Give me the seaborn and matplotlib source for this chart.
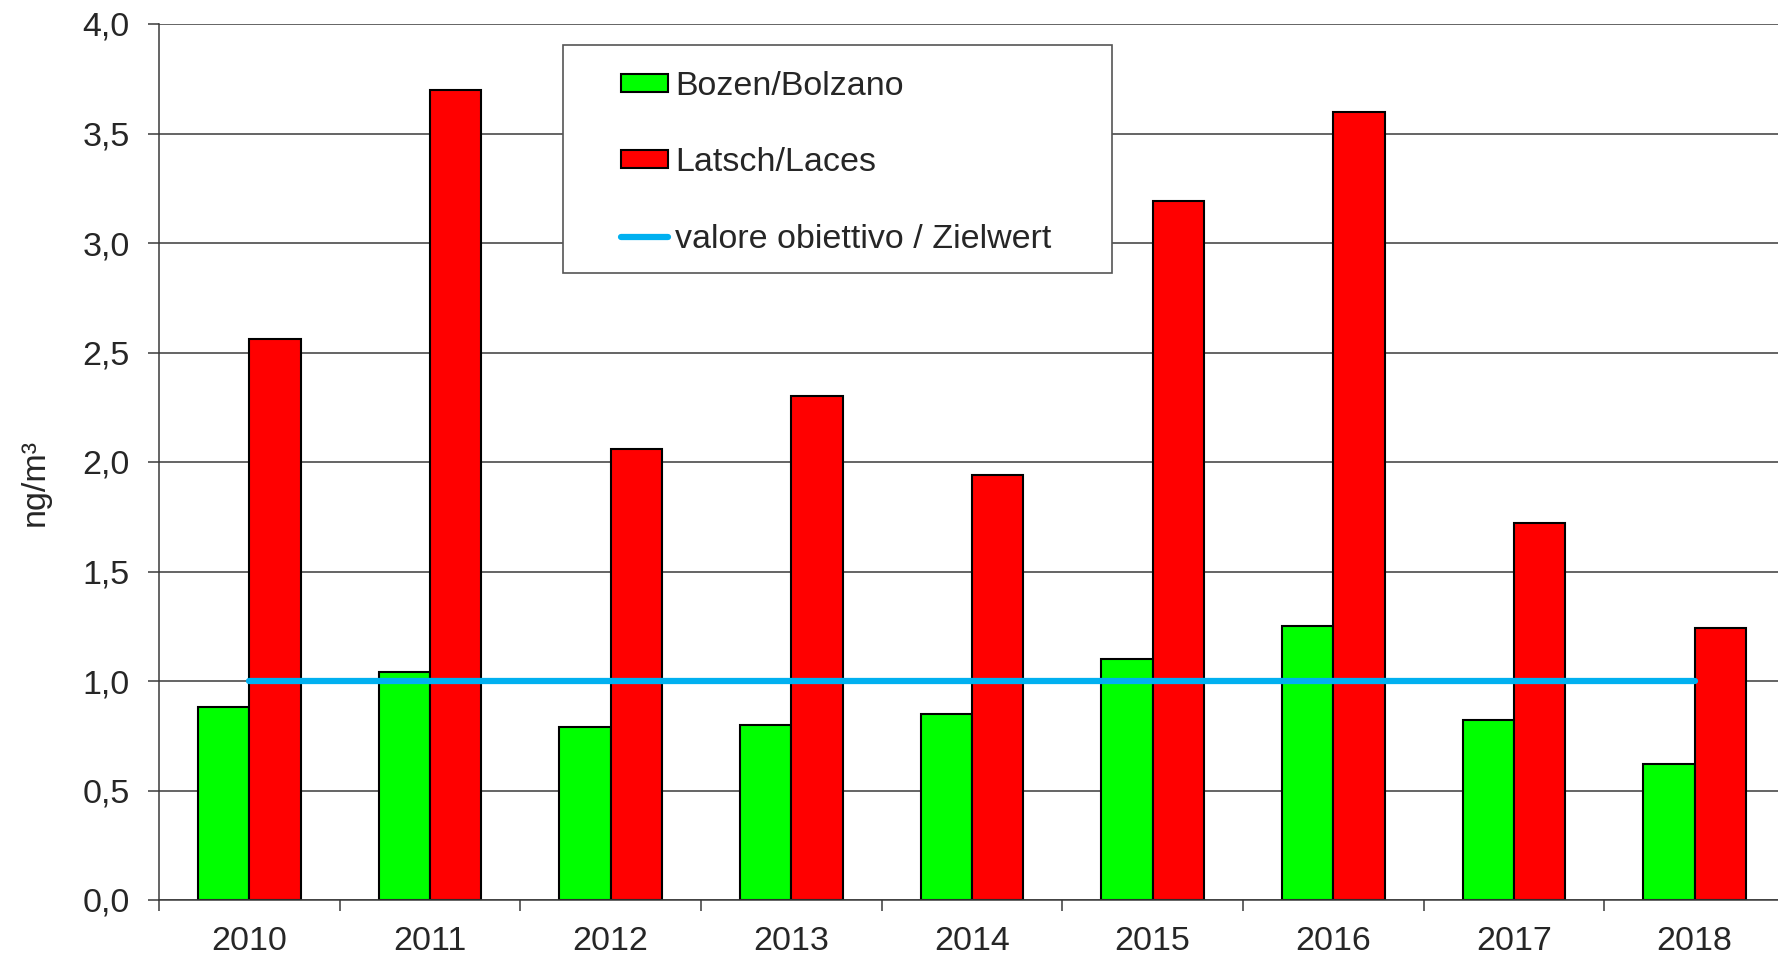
import numpy as np
import pandas as pd
import seaborn as sns
import matplotlib.pyplot as plt
from matplotlib.patches import Rectangle

# values (ng/m3)
years = ['2010', '2011', '2012', '2013', '2014', '2015', '2016', '2017', '2018']
bozen = [0.88, 1.04, 0.79, 0.80, 0.85, 1.10, 1.25, 0.82, 0.62]
latsch = [2.56, 3.70, 2.06, 2.30, 1.94, 3.19, 3.60, 1.72, 1.24]
target = [1.0, 1.0, 1.0, 1.0, 1.0, 1.0, 1.0, 1.0, 1.0]
stations = ['Bozen/Bolzano', 'Latsch/Laces']
target_label = 'valore obiettivo / Zielwert'

df = pd.DataFrame({
    'year': years * 2,
    'value': bozen + latsch,
    'station': [stations[0]] * len(years) + [stations[1]] * len(years),
})

sns.set_style('white')
plt.rcParams['font.family'] = ['Liberation Sans', 'DejaVu Sans']
fs = 24.5

fig = plt.figure(figsize=(17.78, 9.57), dpi=100)
ax = fig.add_axes([159 / 1778, 1 - 900 / 957, 1626 / 1778, 876 / 957])

sns.barplot(data=df, x='year', y='value', hue='station', order=years,
            palette=['#00FF00', '#FF0000'], saturation=1, width=0.57,
            edgecolor='black', linewidth=1.5, errorbar=None, ax=ax, zorder=2)
sns.lineplot(x=np.arange(len(years)), y=target, color='#00B0F0', linewidth=4.5,
             solid_capstyle='round', label=target_label, ax=ax, zorder=3)

ax.set_xlim(-0.5, len(years) - 0.5)
ax.set_ylim(0, 4.0)
ax.set_yticks(np.arange(0, 4.01, 0.5))
ax.set_yticklabels([f'{v:.1f}'.replace('.', ',') for v in np.arange(0, 4.01, 0.5)])
ax.yaxis.grid(True, color='#3a3a3a', linewidth=1.1)
ax.set_axisbelow(True)

ax.set_xticks(np.arange(len(years)))
ax.set_xticklabels(years)
ax.set_xticks(np.arange(len(years)) - 0.5, minor=True)
ax.tick_params(axis='x', which='major', length=0, pad=19, labelsize=fs)
ax.tick_params(axis='x', which='minor', length=8, width=1.1, color='#3a3a3a', direction='out', bottom=True)
ax.tick_params(axis='y', length=8, width=1.1, color='#3a3a3a', direction='out', left=True, pad=13, labelsize=fs)

for s in ['top', 'right']:
    ax.spines[s].set_visible(False)
for s in ['left', 'bottom']:
    ax.spines[s].set_color('#3a3a3a')
    ax.spines[s].set_linewidth(1.1)

ax.set_xlabel('')
ax.set_ylabel('ng/m³', fontsize=fs)
ax.yaxis.set_label_coords(-0.0664, 0.477)

# legend box drawn separately so the entries can sit centred in it
ax.add_patch(Rectangle((563 / 1778, 1 - 273 / 957), 549 / 1778, 228 / 957,
                       transform=fig.transFigure, facecolor='white', edgecolor='#555555',
                       linewidth=1.2, zorder=4, clip_on=False))

handles, labels = ax.get_legend_handles_labels()
order = [labels.index(stations[0]), labels.index(stations[1]), labels.index(target_label)]
leg = ax.legend([handles[i] for i in order], [labels[i] for i in order],
                loc='upper left', bbox_to_anchor=(621 / 1778, 1 - 71 / 957),
                bbox_transform=fig.transFigure, borderaxespad=0, borderpad=0,
                fontsize=fs, frameon=False, handlelength=1.38, handleheight=0.45,
                handletextpad=0.2, labelspacing=1.33)
leg.set_zorder(5)
for p in leg.get_patches():
    p.set_edgecolor('black')
    p.set_linewidth(1.5)

fig.savefig('out.png', dpi=100)
